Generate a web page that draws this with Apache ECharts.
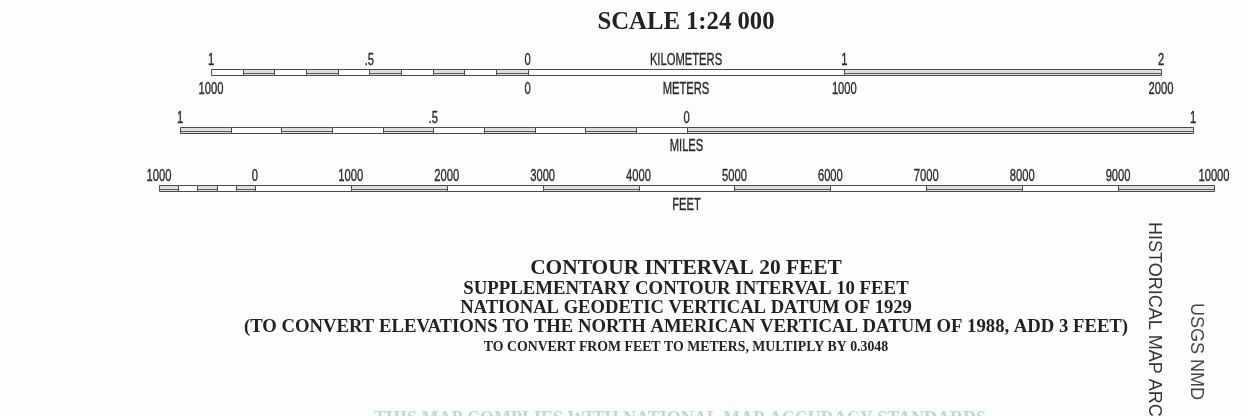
<!DOCTYPE html>
<html lang="en">
  <head>
    <meta charset="UTF-8" />
    <title>Scale 1:24 000</title>
    <style>
      body {
        margin: 0;
        overflow: hidden;
        background: #fdfdfd;
      }
    </style>
    <script src="https://cdn.jsdelivr.net/npm/echarts@6/dist/echarts.min.js"></script>
  </head>

  <body>
    <div id="chart" style="width: 1247px; height: 416px"></div>
    <script>
      // kilometers bar (values in km)
      var kmBreaks = [-1, -0.9, -0.8, -0.7, -0.6, -0.5, -0.4, -0.3, -0.2, -0.1, 0, 1, 2];
      var kmShade = [0, 1, 0, 1, 0, 1, 0, 1, 0, 1, 0, 1];
      var kmTopTicks = [-1, -0.5, 0, 0.5, 1, 2];
      var kmTopLabels = ["1", ".5", "0", "KILOMETERS", "1", "2"];
      var kmBottomTicks = [-1, 0, 0.5, 1, 2];
      var kmBottomLabels = ["1000", "0", "METERS", "1000", "2000"];

      // miles bar (values in miles)
      var miBreaks = [-1, -0.9, -0.8, -0.7, -0.6, -0.5, -0.4, -0.3, -0.2, -0.1, 0, 1];
      var miShade = [1, 0, 1, 0, 1, 0, 1, 0, 1, 0, 1];
      var miTopTicks = [-1, -0.5, 0, 1];
      var miTopLabels = ["1", ".5", "0", "1"];
      var miBottomTicks = [0];
      var miBottomLabels = ["MILES"];

      // feet bar (values in feet)
      var ftBreaks = [-1000, -800, -600, -400, -200, 0, 1000, 2000, 3000, 4000, 5000, 6000, 7000, 8000, 9000, 10000];
      var ftShade = [1, 0, 1, 0, 1, 0, 1, 0, 1, 0, 1, 0, 1, 0, 1];
      var ftTopTicks = [-1000, 0, 1000, 2000, 3000, 4000, 5000, 6000, 7000, 8000, 9000, 10000];
      var ftTopLabels = ["1000", "0", "1000", "2000", "3000", "4000", "5000", "6000", "7000", "8000", "9000", "10000"];
      var ftBottomTicks = [4500];
      var ftBottomLabels = ["FEET"];

      var scaleTitle = "SCALE 1:24 000";
      var noteLines = [
        "CONTOUR INTERVAL 20 FEET",
        "SUPPLEMENTARY CONTOUR INTERVAL 10 FEET",
        "NATIONAL GEODETIC VERTICAL DATUM OF 1929",
        "(TO CONVERT ELEVATIONS TO THE NORTH AMERICAN VERTICAL DATUM OF 1988, ADD 3 FEET)",
        "TO CONVERT FROM FEET TO METERS, MULTIPLY BY 0.3048",
      ];
      var stampLines = ["USGS NMD", "HISTORICAL MAP ARCHIVE"];

      function segs(breaks, shade) {
        return shade.map(function (s, i) {
          return [breaks[i], breaks[i + 1], s];
        });
      }

      var serif = "'Liberation Serif', 'DejaVu Serif', serif";
      var sans = "'Liberation Sans', Arial, sans-serif";

      function renderSeg(params, api) {
        var a = api.coord([api.value(0), 1]);
        var b = api.coord([api.value(1), 0]);
        var x0 = Math.round(a[0]) + 0.5;
        var x1 = Math.round(b[0]) + 0.5;
        var y0 = Math.round(a[1]) + 0.5;
        var y1 = Math.round(b[1]) + 0.5;
        var kids = [
          {
            type: "rect",
            shape: { x: x0, y: y0, width: x1 - x0, height: y1 - y0 },
            style: { fill: api.value(2) ? "#dedede" : "#fff", stroke: "#4a4a4a", lineWidth: 1 },
          },
        ];
        if (api.value(2)) {
          var ym = Math.round((y0 + y1) / 2) + 0.5;
          kids.push({
            type: "line",
            shape: { x1: x0, y1: ym, x2: x1, y2: ym },
            style: { stroke: "#5a5a5a", lineWidth: 1 },
          });
        }
        return { type: "group", children: kids };
      }

      function barSeries(i, data) {
        return {
          type: "custom",
          xAxisIndex: i,
          yAxisIndex: i,
          renderItem: renderSeg,
          encode: { x: [0, 1] },
          data: data,
          silent: true,
        };
      }

      // condensed tick labels placed on the axis scale
      function labelSeries(i, ticks, labels, top, offset) {
        return {
          type: "custom",
          xAxisIndex: i,
          yAxisIndex: i,
          silent: true,
          encode: { x: 0 },
          data: ticks.map(function (t, k) {
            return [t, k];
          }),
          renderItem: function (params, api) {
            var c = api.coord([api.value(0), top ? 1 : 0]);
            return {
              type: "text",
              x: c[0],
              y: c[1] + offset,
              scaleX: 0.7,
              style: {
                text: labels[api.value(1)],
                fill: "#2a2a2a",
                stroke: "#2a2a2a",
                lineWidth: 0.35,
                font: "16px " + sans,
                textAlign: "center",
                textVerticalAlign: "middle",
              },
            };
          },
        };
      }

      var graphics = [
        {
          type: "text",
          x: 686,
          y: 23,
          style: { text: scaleTitle, fill: "#222", font: "bold 24.7px " + serif, textAlign: "center", textVerticalAlign: "middle" },
        },
      ];
      var noteY = [268, 289, 308, 327, 347];
      var noteSize = [21.4, 18.8, 18.6, 18.7, 13.8];
      noteLines.forEach(function (t, i) {
        graphics.push({
          type: "text",
          x: 686,
          y: noteY[i],
          style: { text: t, fill: "#222", font: "bold " + noteSize[i] + "px " + serif, textAlign: "center", textVerticalAlign: "middle" },
        });
      });
      // faint text cut at the bottom edge
      graphics.push({
        type: "text",
        x: 680,
        y: 410,
        style: { text: "THIS MAP COMPLIES WITH NATIONAL MAP ACCURACY STANDARDS", fill: "#b5dcd5", font: "bold 18px " + serif, textAlign: "center", textVerticalAlign: "top" },
      });
      // archive stamp, rotated
      graphics.push({
        type: "text",
        x: 1187,
        y: 303,
        rotation: -Math.PI / 2,
        style: { text: stampLines[0], fill: "#444", font: "18px " + sans, textAlign: "left", textVerticalAlign: "bottom" },
      });
      graphics.push({
        type: "text",
        x: 1145,
        y: 222,
        rotation: -Math.PI / 2,
        style: { text: stampLines[1], fill: "#333", font: "18px " + sans, textAlign: "left", textVerticalAlign: "bottom" },
      });

      var option = {
        backgroundColor: "#fdfdfd",
        animation: false,
        grid: [
          { left: 211, width: 950, top: 69, height: 6 },
          { left: 180, width: 1013, top: 127, height: 6 },
          { left: 159, width: 1055, top: 185, height: 6 },
        ],
        xAxis: [
          { type: "value", gridIndex: 0, min: -1, max: 2, show: false },
          { type: "value", gridIndex: 1, min: -1, max: 1, show: false },
          { type: "value", gridIndex: 2, min: -1000, max: 10000, show: false },
        ],
        yAxis: [0, 1, 2].map(function (g) {
          return { type: "value", gridIndex: g, min: 0, max: 1, show: false };
        }),
        series: [
          barSeries(0, segs(kmBreaks, kmShade)),
          barSeries(1, segs(miBreaks, miShade)),
          barSeries(2, segs(ftBreaks, ftShade)),
          labelSeries(0, kmTopTicks, kmTopLabels, true, -8),
          labelSeries(0, kmBottomTicks, kmBottomLabels, false, 15),
          labelSeries(1, miTopTicks, miTopLabels, true, -8.5),
          labelSeries(1, miBottomTicks, miBottomLabels, false, 14),
          labelSeries(2, ftTopTicks, ftTopLabels, true, -8),
          labelSeries(2, ftBottomTicks, ftBottomLabels, false, 15),
        ],
        graphic: graphics,
      };

      var myChart = echarts.init(document.getElementById("chart"));
      myChart.setOption(option);
    </script>
  </body>
</html>
